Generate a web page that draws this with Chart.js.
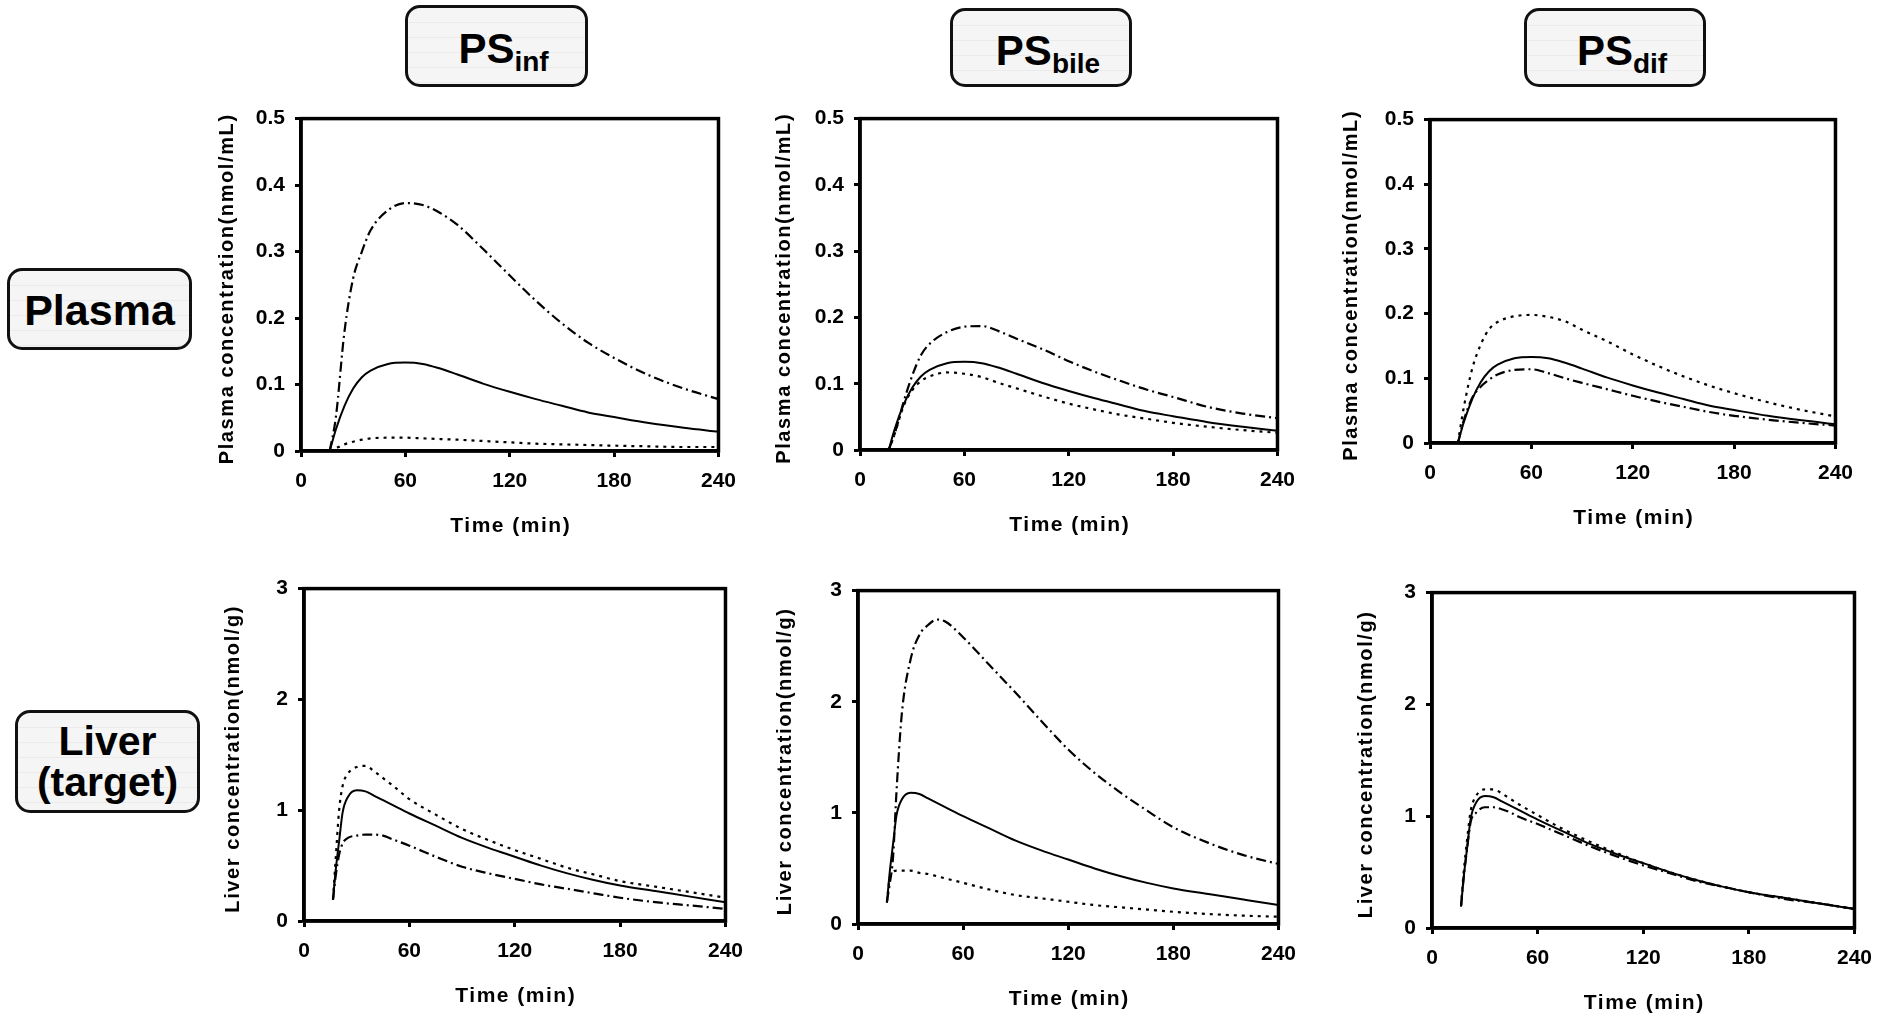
<!DOCTYPE html>
<html>
<head>
<meta charset="utf-8">
<title>PS sensitivity - plasma and liver</title>
<script src="https://cdn.jsdelivr.net/npm/chart.js@4.4.1/dist/chart.umd.min.js"></script>
<style>
  body {
    margin: 0;
    width: 1902px;
    height: 1021px;
    position: relative;
    overflow: hidden;
    background: #fff;
    font-family: "Liberation Sans", Arial, sans-serif;
  }
  .tag {
    position: absolute;
    box-sizing: border-box;
    border: 3px solid #111;
    border-radius: 15px;
    background: repeating-linear-gradient(#f5f5f5 0 14px, #ebebeb 14px 15px);
    display: flex;
    align-items: center;
    justify-content: center;
    font-weight: bold;
    color: #000;
    text-align: center;
  }
  .ps { font-size: 42px; padding-left: 14px; padding-top: 6px; }
  .ps span { font-size: 28px; position: relative; top: 13px; }
  canvas { position: absolute; }
</style>
</head>
<body>

<div class="tag ps" style="left:405px;top:5px;width:183px;height:82px;">PS<span>inf</span></div>
<div class="tag ps" style="left:950px;top:8px;width:182px;height:79px;">PS<span>bile</span></div>
<div class="tag ps" style="left:1524px;top:8px;width:182px;height:79px;">PS<span>dif</span></div>
<div class="tag" style="left:7px;top:268px;width:185px;height:82px;font-size:43px;padding-top:2px;">Plasma</div>
<div class="tag" style="left:15px;top:710px;width:185px;height:103px;font-size:41px;line-height:41px;">Liver<br>(target)</div>

<script>
// time points (min)
const plasmaTime = [16.5, 20, 25, 30, 35, 40, 50, 60, 70, 80, 90, 105, 120, 135, 150, 165, 180, 200, 220, 240];
const liverTime = [16.5, 18, 20, 22, 25, 30, 35, 40, 45, 50, 60, 75, 90, 105, 120, 135, 150, 165, 180, 200, 220, 240];

// plasma concentration (nmol/mL)
const plasmaControl = [0, 0.032, 0.068, 0.094, 0.111, 0.121, 0.131, 0.133, 0.131, 0.124, 0.115, 0.101, 0.089, 0.078, 0.068, 0.058, 0.051, 0.042, 0.035, 0.029];
const plasmaInfHigh = [0, 0.05, 0.18, 0.26, 0.30, 0.332, 0.362, 0.373, 0.370, 0.358, 0.340, 0.303, 0.264, 0.226, 0.192, 0.163, 0.140, 0.114, 0.094, 0.078];
const plasmaInfLow = [0, 0.004, 0.010, 0.014, 0.017, 0.019, 0.020, 0.020, 0.019, 0.018, 0.017, 0.015, 0.013, 0.011, 0.010, 0.009, 0.008, 0.007, 0.006, 0.006];
const plasmaBileHigh = [0, 0.025, 0.072, 0.112, 0.143, 0.160, 0.178, 0.186, 0.187, 0.179, 0.168, 0.152, 0.134, 0.118, 0.104, 0.091, 0.080, 0.065, 0.055, 0.048];
const plasmaBileLow = [0, 0.025, 0.066, 0.090, 0.104, 0.111, 0.117, 0.115, 0.110, 0.101, 0.093, 0.081, 0.070, 0.061, 0.053, 0.047, 0.041, 0.035, 0.030, 0.026];
const plasmaDifHigh = [0, 0.055, 0.115, 0.152, 0.176, 0.187, 0.196, 0.198, 0.195, 0.188, 0.175, 0.157, 0.137, 0.119, 0.103, 0.089, 0.077, 0.063, 0.051, 0.041];
const plasmaDifLow = [0, 0.035, 0.070, 0.087, 0.098, 0.106, 0.113, 0.114, 0.108, 0.100, 0.093, 0.083, 0.073, 0.064, 0.056, 0.048, 0.042, 0.036, 0.031, 0.027];

// liver concentration (nmol/g)
const liverControl = [0.19, 0.45, 0.72, 0.98, 1.12, 1.18, 1.17, 1.13, 1.09, 1.05, 0.97, 0.86, 0.75, 0.66, 0.58, 0.50, 0.43, 0.37, 0.32, 0.27, 0.22, 0.17];
const liverInfHigh = [0.20, 0.55, 1.00, 1.22, 1.33, 1.39, 1.40, 1.35, 1.29, 1.23, 1.10, 0.96, 0.83, 0.73, 0.64, 0.56, 0.48, 0.42, 0.36, 0.31, 0.26, 0.21];
const liverInfLow = [0.19, 0.40, 0.60, 0.70, 0.75, 0.77, 0.78, 0.78, 0.77, 0.74, 0.68, 0.58, 0.49, 0.43, 0.38, 0.33, 0.29, 0.25, 0.21, 0.17, 0.14, 0.11];
const liverBileHigh = [0.20, 0.35, 0.60, 1.20, 1.89, 2.38, 2.60, 2.69, 2.74, 2.72, 2.58, 2.33, 2.08, 1.82, 1.57, 1.36, 1.18, 1.02, 0.87, 0.73, 0.62, 0.54];
const liverBileLow = [0.20, 0.40, 0.47, 0.48, 0.48, 0.48, 0.46, 0.45, 0.43, 0.41, 0.37, 0.31, 0.26, 0.23, 0.20, 0.17, 0.15, 0.13, 0.11, 0.09, 0.075, 0.065];
const liverDifHigh = [0.20, 0.50, 0.80, 1.05, 1.18, 1.24, 1.24, 1.20, 1.15, 1.10, 1.01, 0.88, 0.77, 0.67, 0.58, 0.50, 0.43, 0.37, 0.32, 0.27, 0.22, 0.17];
const liverDifLow = [0.20, 0.45, 0.72, 0.95, 1.03, 1.08, 1.08, 1.06, 1.03, 0.99, 0.93, 0.83, 0.73, 0.64, 0.56, 0.49, 0.42, 0.37, 0.32, 0.26, 0.22, 0.17];

// axes
const xMax = 240;
const xStep = 60;
const plasmaMax = 0.5;
const plasmaStep = 0.1;
const liverMax = 3;
const liverStep = 1;

const FONT = "'Liberation Sans', Arial, sans-serif";
Chart.defaults.font.family = FONT;
Chart.defaults.color = "#000";

const dashes = { solid: [], dash: [10, 4, 2, 4], dot: [3, 5] };

// box round the plot + axis titles (letter-spaced like the original)
const framePlugin = {
  id: "frame",
  afterDraw(chart, args, opts) {
    const ctx = chart.ctx;
    const a = chart.chartArea;
    ctx.save();
    ctx.strokeStyle = "#000";
    ctx.lineWidth = 3.5;
    ctx.strokeRect(a.left, a.top, a.right - a.left, a.bottom - a.top);

    ctx.fillStyle = "#000";
    ctx.textAlign = "center";
    ctx.textBaseline = "middle";
    ctx.font = "bold 21px " + FONT;
    ctx.letterSpacing = "1.5px";
    ctx.fillText(opts.xTitle, (a.left + a.right) / 2 + 1, a.bottom + 75);

    ctx.font = "bold 20px " + FONT;
    ctx.letterSpacing = "1.6px";
    ctx.translate(a.left - opts.yGap, (a.top + a.bottom) / 2 + 4);
    ctx.rotate(-Math.PI / 2);
    ctx.fillText(opts.yTitle, 0, 0);
    ctx.restore();
  }
};

function points(time, values) {
  return time.map((t, i) => ({ x: t, y: values[i] }));
}

const AXIS_W = 110, AXIS_H = 100, PAD_T = 16, PAD_R = 24;

function panel(rect, time, lines, yMax, yStep, yTitle, yGap) {
  const canvas = document.createElement("canvas");
  canvas.width = rect[2] - rect[0] + AXIS_W + PAD_R;
  canvas.height = rect[3] - rect[1] + PAD_T + AXIS_H;
  canvas.style.left = (rect[0] - AXIS_W) + "px";
  canvas.style.top = (rect[1] - PAD_T) + "px";
  document.body.appendChild(canvas);

  const tickFont = { size: 21, weight: "bold" };
  const grid = { drawOnChartArea: false, drawTicks: true, tickLength: 6, tickWidth: 3, color: "#000" };
  const border = { display: true, color: "#000", width: 3.5 };

  new Chart(canvas, {
    type: "line",
    data: {
      datasets: lines.map((l) => ({
        data: points(time, l.values),
        borderColor: "#000",
        borderWidth: l.style === "solid" ? 2 : 2.2,
        borderDash: dashes[l.style],
        pointRadius: 0,
        cubicInterpolationMode: "monotone",
        fill: false,
      })),
    },
    options: {
      responsive: false,
      animation: false,
      devicePixelRatio: 1,
      layout: { padding: { top: PAD_T, right: PAD_R, left: 0, bottom: 0 } },
      plugins: {
        legend: { display: false },
        tooltip: { enabled: false },
        frame: { xTitle: "Time (min)", yTitle: yTitle, yGap: yGap },
      },
      scales: {
        x: {
          type: "linear",
          min: 0,
          max: xMax,
          afterFit: (s) => { s.height = AXIS_H; },
          ticks: { stepSize: xStep, padding: 12, maxRotation: 0, font: tickFont, color: "#000" },
          grid: grid,
          border: border,
        },
        y: {
          type: "linear",
          min: 0,
          max: yMax,
          afterFit: (s) => { s.width = AXIS_W; },
          ticks: { stepSize: yStep, padding: 10, font: tickFont, color: "#000" },
          grid: grid,
          border: border,
        },
      },
    },
    plugins: [framePlugin],
  });
}

const plasmaTitle = "Plasma concentration(nmol/mL)";
const liverTitle = "Liver concentration(nmol/g)";

// top row: plasma
panel([301, 112, 724, 451], plasmaTime, [
  { values: plasmaControl, style: "solid" },
  { values: plasmaInfHigh, style: "dash" },
  { values: plasmaInfLow, style: "dot" },
], plasmaMax, plasmaStep, plasmaTitle, 74);

panel([860, 112, 1283, 450], plasmaTime, [
  { values: plasmaControl, style: "solid" },
  { values: plasmaBileHigh, style: "dash" },
  { values: plasmaBileLow, style: "dot" },
], plasmaMax, plasmaStep, plasmaTitle, 76);

panel([1430, 113, 1841, 443], plasmaTime, [
  { values: plasmaControl, style: "solid" },
  { values: plasmaDifHigh, style: "dot" },
  { values: plasmaDifLow, style: "dash" },
], plasmaMax, plasmaStep, plasmaTitle, 79);

// bottom row: liver
panel([304, 582, 731, 921], liverTime, [
  { values: liverControl, style: "solid" },
  { values: liverInfHigh, style: "dot" },
  { values: liverInfLow, style: "dash" },
], liverMax, liverStep, liverTitle, 71);

panel([858, 584, 1284, 924], liverTime, [
  { values: liverControl, style: "solid" },
  { values: liverBileHigh, style: "dash" },
  { values: liverBileLow, style: "dot" },
], liverMax, liverStep, liverTitle, 73);

panel([1432, 586, 1860, 928], liverTime, [
  { values: liverControl, style: "solid" },
  { values: liverDifHigh, style: "dot" },
  { values: liverDifLow, style: "dash" },
], liverMax, liverStep, liverTitle, 66);
</script>
</body>
</html>
